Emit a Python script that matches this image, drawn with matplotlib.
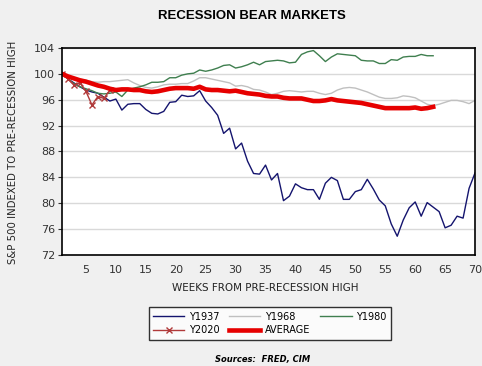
import matplotlib
matplotlib.use("Agg")
import matplotlib.pyplot as plt
import numpy as np

# weekly S&P 500 indexed to pre-recession high
y1937 = [100, 99.2, 98.6, 98.0, 97.5, 97.2, 97.0, 96.4, 95.8, 96.1,
         94.4, 95.3, 95.4, 95.4, 94.5, 93.9, 93.8, 94.2, 95.6, 95.7,
         96.7, 96.5, 96.6, 97.4, 95.8, 94.8, 93.6, 90.8, 91.6, 88.4,
         89.3, 86.5, 84.6, 84.5, 85.9, 83.6, 84.6, 80.4, 81.1, 83.0,
         82.4, 82.1, 82.1, 80.6, 83.1, 84.0, 83.5, 80.6, 80.6, 81.8,
         82.1, 83.7, 82.2, 80.5, 79.6, 76.8, 74.9, 77.4, 79.3, 80.2,
         78.0, 80.1, 79.4, 78.7, 76.2, 76.6, 78.0, 77.7, 82.3, 84.7]
y1968 = [100, 99.7, 99.4, 99.2, 99.0, 98.8, 98.7, 98.8, 98.8, 98.9,
         99.0, 99.1, 98.6, 98.2, 97.9, 97.8, 98.0, 98.3, 98.4, 98.4,
         98.5, 98.5, 98.9, 99.4, 99.4, 99.2, 99.0, 98.8, 98.6, 98.1,
         98.2, 98.0, 97.6, 97.5, 97.2, 96.8, 97.0, 97.3, 97.4, 97.3,
         97.2, 97.3, 97.3, 97.0, 96.8, 97.0, 97.5, 97.8, 97.9, 97.8,
         97.5, 97.2, 96.8, 96.4, 96.2, 96.2, 96.3, 96.6, 96.5, 96.3,
         95.8, 95.3, 95.1, 95.3, 95.6, 95.9, 95.9, 95.7, 95.4, 95.9]
y1980 = [100, 99.2, 98.5, 98.0, 97.7, 97.4, 97.0, 96.9, 97.0, 97.2,
         96.5, 97.5, 97.8, 98.0, 98.3, 98.7, 98.7, 98.8, 99.4, 99.4,
         99.8, 100.0, 100.1, 100.6, 100.4, 100.6, 100.9, 101.3, 101.4, 100.9,
         101.1, 101.4, 101.8, 101.4, 101.9, 102.0, 102.1, 102.0, 101.7, 101.8,
         103.0, 103.4, 103.6, 102.8, 101.9, 102.6, 103.1, 103.0, 102.9, 102.8,
         102.1, 102.0, 102.0, 101.6, 101.6, 102.2, 102.1, 102.6, 102.7, 102.7,
         103.0, 102.8, 102.8]
y2020 = [100, 99.2, 98.3, 98.6, 97.3, 95.2, 96.5, 96.2, 97.5]
average = [100, 99.6, 99.3, 99.0, 98.8, 98.5, 98.2, 98.0, 97.7, 97.5,
           97.6, 97.6, 97.5, 97.5, 97.3, 97.2, 97.3, 97.5, 97.7, 97.8,
           97.8, 97.8, 97.7, 98.0, 97.6, 97.5, 97.5, 97.4, 97.3, 97.4,
           97.2, 97.0, 96.9, 96.8, 96.6, 96.5, 96.5, 96.3, 96.2, 96.2,
           96.2, 96.0, 95.8, 95.8, 95.9, 96.1, 95.9, 95.8, 95.7, 95.6,
           95.5, 95.3, 95.1, 94.9, 94.7, 94.7, 94.7, 94.7, 94.7, 94.8,
           94.6, 94.7, 94.9]

def weeks(s):
    return np.arange(1, len(s) + 1)

bg = "#f0f0f0"
fig = plt.figure(figsize=(4.82, 3.66), dpi=100, facecolor=bg)
ax = fig.add_axes([0.1286, 0.3033, 0.857, 0.5656])
ax.set_facecolor("white")

l37, = ax.plot(weeks(y1937), y1937, color="#14146e", lw=1, label="Y1937")
l68, = ax.plot(weeks(y1968), y1968, color="#c0c0c0", lw=1, label="Y1968")
l80, = ax.plot(weeks(y1980), y1980, color="#3f7f4f", lw=1, label="Y1980")
l20, = ax.plot(weeks(y2020), y2020, color="#b03a3a", lw=1, marker="x", ms=4,
               mew=1, label="Y2020")
lav, = ax.plot(weeks(average), average, color="#e60000", lw=3.3, label="AVERAGE")

ax.set_xlim(1, 70)
ax.set_ylim(72, 104)
ax.set_xticks(np.arange(5, 71, 5))
ax.set_yticks(np.arange(72, 105, 4))
ax.yaxis.grid(True, color="#d9d9d9", lw=1)
ax.set_axisbelow(True)
ax.tick_params(axis="x", length=0, pad=7, labelsize=8, colors="#333333")
ax.tick_params(axis="y", length=3, pad=2, labelsize=8, colors="#333333")
for sp in ax.spines.values():
    sp.set_color("black")
    sp.set_linewidth(1.2)

fig.text(0.523, 0.955, "RECESSION BEAR MARKETS", ha="center", va="center",
         fontsize=9.5, fontweight="bold", family="Liberation Sans")
fig.text(0.027, 0.585, "S&P 500 INDEXED TO PRE-RECESSION HIGH", rotation=90,
         ha="center", va="center", fontsize=7.3, color="#222222")
fig.text(0.55, 0.213, "WEEKS FROM PRE-RECESSION HIGH", ha="center",
         va="center", fontsize=7.5, color="#222222")

# row-wise order like the original legend
handles = [l37, l20, l68, lav, l80]
leg = fig.legend(handles, [h.get_label() for h in handles], loc="center",
                 bbox_to_anchor=(0.56, 0.116), ncol=3, fontsize=7,
                 frameon=True, fancybox=False, edgecolor="black",
                 handlelength=3.2, handletextpad=0.5, columnspacing=1.0,
                 labelspacing=0.35, borderpad=0.45)
leg.get_frame().set_linewidth(1)
leg.get_frame().set_facecolor("white")

fig.text(0.545, 0.017, "Sources:  FRED, CIM", ha="center", va="center",
         fontsize=6, style="italic", fontweight="bold")

fig.savefig("out.png", dpi=100, facecolor=bg)
